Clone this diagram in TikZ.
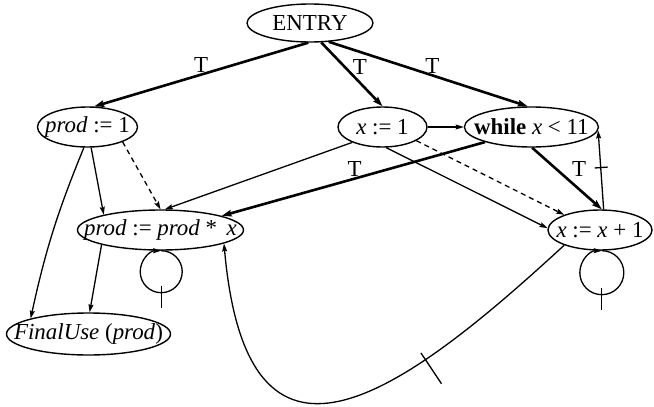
\documentclass[tikz,border=0pt]{standalone}
\usepackage{fontspec}
\setmainfont{Liberation Serif}
\usetikzlibrary{shapes.geometric, arrows.meta, positioning, decorations.markings}
\tikzset{
    % Base Statement Style (size fixed by minimum width/height)
    stmt/.style={
        ellipse,
        inner xsep=-2cm,
        inner ysep=-1cm,
        minimum height=40bp,
        font=\fontsize{23}{27}\selectfont,
        draw=black,
        line width=1.4bp
    },
    % Edge Styles
    ctrl/.style={-{Stealth[length=10bp, width=6.5bp, inset=1.5bp]}, line width=2.6bp},
    flow/.style={-{Stealth[length=8bp, width=5bp, inset=1.2bp]}, line width=1.3bp},
    order/.style={flow, dash pattern=on 5bp off 4bp},
    cond/.style={font=\fontsize{23}{27}\selectfont, inner sep=1bp},
    % Cross Mark on Loop-Carried Edges
    crossed/.style n args={3}{postaction={decorate, decoration={markings,
        mark=at position #1 with {\draw[-, solid, line width=1.3bp] (0pt,-#2) -- (0pt,#3);}}}}
}

\begin{document}
\begin{tikzpicture}[x=1bp, y=1bp]
    \useasboundingbox (0,0) rectangle (654,406);

    % --- Top Row ---
    \node (entry) [stmt, minimum width=126bp, minimum height=38bp] at (310,383) {ENTRY};

    % --- Second Row (Initialisation and Loop Test) ---
    \node (prodInit) [stmt, minimum width=100bp] at (87.5,279) {\textit{prod} := 1};
    \node (xInit) [stmt, minimum width=89bp] at (382.5,279) {\textit{x} := 1};
    \node (loop) [stmt, minimum width=134bp, right=36bp of xInit] {\textbf{while} \textit{x} < 11};

    % --- Loop Body ---
    \node (prodMul) [stmt, minimum width=166bp] at (160.5,176) {\textit{prod} := \textit{prod} * \,\textit{x}};
    \node (xInc) [stmt, minimum width=104bp] at (600,176) {\textit{x} := \textit{x} + 1};

    % --- Exit ---
    \node (finalUse) [stmt, minimum width=164bp, minimum height=42bp] at (88.5,72) {\textit{FinalUse} (\textit{prod})};

    % --- Control Edges (thick, labelled T) ---
    \draw [ctrl] (entry.-95) -- node[cond, pos=.5, above] {T} (prodInit.72);
    \draw [ctrl] (entry.-60) -- node[cond, pos=.38, right=6bp] {T} (xInit.north);
    \draw [ctrl] (entry.-45) -- node[cond, pos=.52, above] {T} (loop.100);
    \draw [ctrl] (loop.198) -- node[cond, pos=.495, above] {T} (prodMul.13);
    \draw [ctrl] (loop.-88) -- node[cond, pos=.34, right=14bp] {T} (xInc.85);

    % --- Flow Edges ---
    \draw [flow] (xInit.east) -- (loop.west);
    \draw [flow] (xInit.207) -- (prodMul.78);
    \draw [flow] (xInit.-80) -- (xInc.178);
    \draw [flow] (prodInit.-80) -- (prodMul.165);
    \draw [flow] (prodInit.-100) to[bend right=5] (finalUse.165);
    \draw [flow] (prodMul.194) -- (finalUse.87);

    % --- Def-Order Edges (dashed) ---
    \draw [order] (prodInit.-23) -- (prodMul.90);
    \draw [order] (xInit.-22) -- (xInc.157);

    % --- Loop-Carried Edges (crossed) ---
    \draw [flow, crossed={.53}{7bp}{6bp}] (xInc.80) -- (loop.-3);
    \draw [flow, crossed={.5}{7bp}{15bp}] (prodMul.-88) arc[start angle=90, end angle=-270, radius=21bp];
    \draw [flow, crossed={.5}{7bp}{15bp}] (xInc.-85) arc[start angle=90, end angle=-270, radius=22bp];
    \draw [flow, crossed={.36}{8bp}{29bp}] (xInc.203) .. controls +(-169,-156) and +(23,-260) .. (prodMul.-12);

\end{tikzpicture}
\end{document}
